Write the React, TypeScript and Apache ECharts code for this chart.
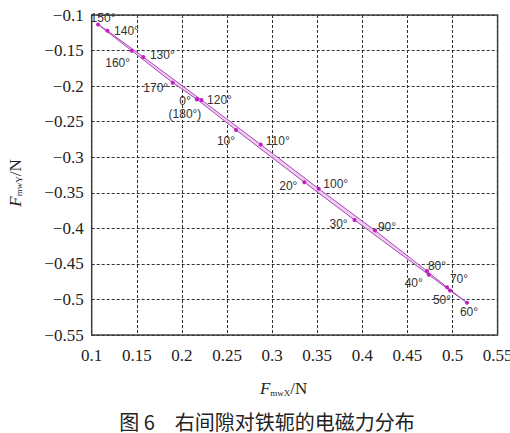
import { useEffect, useRef } from "react";
import * as echarts from "echarts";

// rotor angle of each sample (deg), 180 closes the loop back on 0
const angles = [0, 10, 20, 30, 40, 50, 60, 70, 80, 90, 100, 110, 120, 130, 140, 150, 160, 170, 180];
// force components (N)
const forceX = [
  0.2167, 0.26, 0.3357, 0.3914, 0.4737, 0.4972, 0.5161, 0.4939, 0.4717, 0.4141,
  0.3517, 0.2874, 0.2217, 0.1572, 0.1175, 0.107, 0.1443, 0.1898, 0.2167,
];
const forceY = [
  -0.2186, -0.2617, -0.3352, -0.3883, -0.4653, -0.4875, -0.5046, -0.483, -0.4601, -0.4031,
  -0.3443, -0.2821, -0.2196, -0.1591, -0.1221, -0.1134, -0.1502, -0.1952, -0.2186,
];
const angleLabels = angles.map((a) => (a === 0 ? "0°\n(180°)" : a === 180 ? "" : `${a}°`));

const xRange = [0.1, 0.55];
const yRange = [-0.55, -0.1];
const tickStep = 0.05;

const caption = "图 6\u3000右间隙对铁轭的电磁力分布";

// where each angle label sits relative to its point (px)
const labelOffsets = [
  [-12, 8], [-10, 11], [-16, 4], [-16, 4], [-15, 8], [-8, 9], [2, 9], [12, -8], [10, -5], [12, -4],
  [17, -5], [17, -3], [18, 0], [19, -2], [19, 0], [5, -7], [-14, 12], [-17, 5], [0, 0],
];

const fmtTick = (v: number) => (v < 0 ? "−" : "") + String(+Math.abs(v).toFixed(2));

export default function App() {
  const chartRef = useRef<HTMLDivElement>(null);

  useEffect(() => {
    document.body.style.margin = "0";
    if (!chartRef.current) return;
    const chart = echarts.init(chartRef.current, undefined, { renderer: "svg" });

    const serif = "Liberation Serif";
    const nameRich = {
      f: { fontFamily: serif, fontStyle: "italic", fontSize: 17, color: "#222", verticalAlign: "middle" },
      s: { fontFamily: serif, fontSize: 9, color: "#222", verticalAlign: "bottom" },
      n: { fontFamily: serif, fontSize: 17, color: "#222", verticalAlign: "middle" },
    };

    chart.setOption({
      animation: false,
      textStyle: { fontFamily: serif },
      grid: {
        left: 91.7,
        right: 12.4,
        top: 15,
        bottom: 98,
        outerBoundsMode: "none",
        containLabel: false,
        show: true,
        borderColor: "#444",
        borderWidth: 1.5,
      },
      tooltip: { show: false },
      xAxis: {
        type: "value",
        min: xRange[0],
        max: xRange[1],
        interval: tickStep,
        name: "{f|F}{s|mwX}{n|/N}",
        nameLocation: "middle",
        nameGap: 45,
        nameTextStyle: { rich: nameRich, padding: [0, 22, 0, 0] },
        axisLine: { show: false },
        axisTick: { show: false },
        axisLabel: {
          formatter: fmtTick,
          fontFamily: serif,
          fontSize: 17,
          color: "#222",
          margin: 12,
          showMaxLabel: true,
        },
        splitLine: {
          show: true,
          lineStyle: { color: "#333", width: 1, type: [3, 2] },
        },
      },
      yAxis: {
        type: "value",
        min: yRange[0],
        max: yRange[1],
        interval: tickStep,
        name: "{f|F}{s|mwY}{n|/N}",
        nameLocation: "middle",
        nameRotate: 90,
        nameGap: 68,
        nameTextStyle: { rich: nameRich, padding: [0, 16, 0, 0] },
        axisLine: { show: false },
        axisTick: { show: false },
        axisLabel: {
          formatter: fmtTick,
          fontFamily: serif,
          fontSize: 17,
          color: "#222",
          margin: 8,
        },
        splitLine: {
          show: true,
          lineStyle: { color: "#333", width: 1, type: [3, 2] },
        },
      },
      series: [
        {
          // pale band between the outgoing and returning branches
          type: "custom",
          silent: true,
          z: 1,
          data: [[forceX[0], forceY[0]]],
          renderItem: (_params: any, api: any) => ({
            type: "polygon",
            shape: { points: forceX.map((x, i) => api.coord([x, forceY[i]])) },
            style: { fill: "rgba(238, 196, 238, 0.85)", stroke: "none" },
          }),
        },
        {
          type: "line",
          z: 3,
          showAllSymbol: true,
          symbol: "circle",
          symbolSize: 4,
          lineStyle: { color: "#a848b8", width: 1 },
          itemStyle: { color: "#c41cc4" },
          label: {
            show: true,
            position: "inside",
            fontFamily: "Liberation Sans",
            fontSize: 12,
            lineHeight: 13,
            color: "#333",
          },
          data: forceX.map((x, i) => ({
            value: [x, forceY[i]],
            label: {
              show: angleLabels[i] !== "",
              formatter: angleLabels[i],
              offset: labelOffsets[i],
            },
          })),
        },
      ],
      graphic: [
        {
          type: "text",
          x: 267,
          y: 421,
          style: {
            text: caption,
            fontFamily: "Noto Sans CJK SC",
            fontSize: 20,
            fill: "#222",
            align: "center",
            verticalAlign: "middle",
          },
        },
      ],
    });

    return () => {
      chart.dispose();
    };
  }, []);

  return <div ref={chartRef} style={{ width: 510, height: 433, background: "#fff" }} />;
}
